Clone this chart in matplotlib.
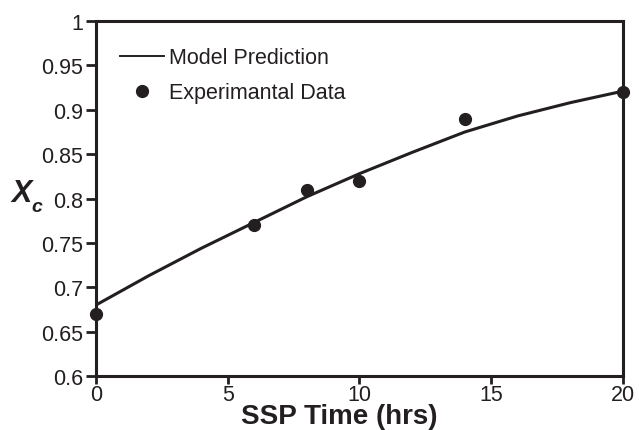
import matplotlib.pyplot as plt

plt.rcParams['font.family'] = ['Liberation Sans', 'DejaVu Sans']

# experimental points
exp_time = [0, 6, 8, 10, 14, 20]
exp_xc = [0.67, 0.77, 0.81, 0.82, 0.89, 0.92]

# model curve
model_time = [0, 2, 4, 6, 8, 10, 12, 14, 16, 18, 20]
model_xc = [0.680, 0.713, 0.744, 0.773, 0.802, 0.828, 0.852, 0.875, 0.893, 0.908, 0.921]

ink = '#231f20'

fig = plt.figure(figsize=(6.39, 4.31), dpi=100)
ax = fig.add_axes([0.150, 0.125, 0.825, 0.824])

ax.plot(model_time, model_xc, color=ink, lw=2.2, label='Model Prediction')
ax.plot(exp_time, exp_xc, 'o', color=ink, ms=8.5, clip_on=False, zorder=5,
        label='Experimantal Data')

ax.set_xlim(0, 20)
ax.set_ylim(0.6, 1.0)
ax.set_xticks([0, 5, 10, 15, 20])
ax.set_yticks([0.6, 0.65, 0.7, 0.75, 0.8, 0.85, 0.9, 0.95, 1.0])
ax.set_yticklabels(['0.6', '0.65', '0.7', '0.75', '0.8', '0.85', '0.9', '0.95', '1'])
ax.tick_params(direction='out', length=7, width=2, color=ink,
               labelsize=15.5, labelcolor=ink, pad=2)
ax.tick_params(axis='x', length=6, pad=0)
for s in ax.spines.values():
    s.set_linewidth(2.2)
    s.set_color(ink)

# x label placed by hand so it sits just under the tick labels
fig.text(339 / 639, 1 - 417 / 431, 'SSP Time (hrs)', fontsize=20, fontweight='bold',
         color=ink, ha='center', va='center')

# y label X with subscript c
fig.text(22 / 639, 1 - 194 / 431, 'X', fontsize=22, fontweight='bold', style='italic',
         color=ink, ha='center', va='center')
fig.text(37 / 639, 1 - 208 / 431, 'c', fontsize=14, fontweight='bold', style='italic',
         color=ink, ha='center', va='center')

leg = ax.legend(loc='upper left', frameon=False, fontsize=15.5, handlelength=2.0,
                handletextpad=0.25, labelspacing=0.65, bbox_to_anchor=(0.01, 0.98),
                labelcolor=ink)
leg.get_lines()[0].set_linewidth(1.4)

fig.savefig('out.png', dpi=100)
